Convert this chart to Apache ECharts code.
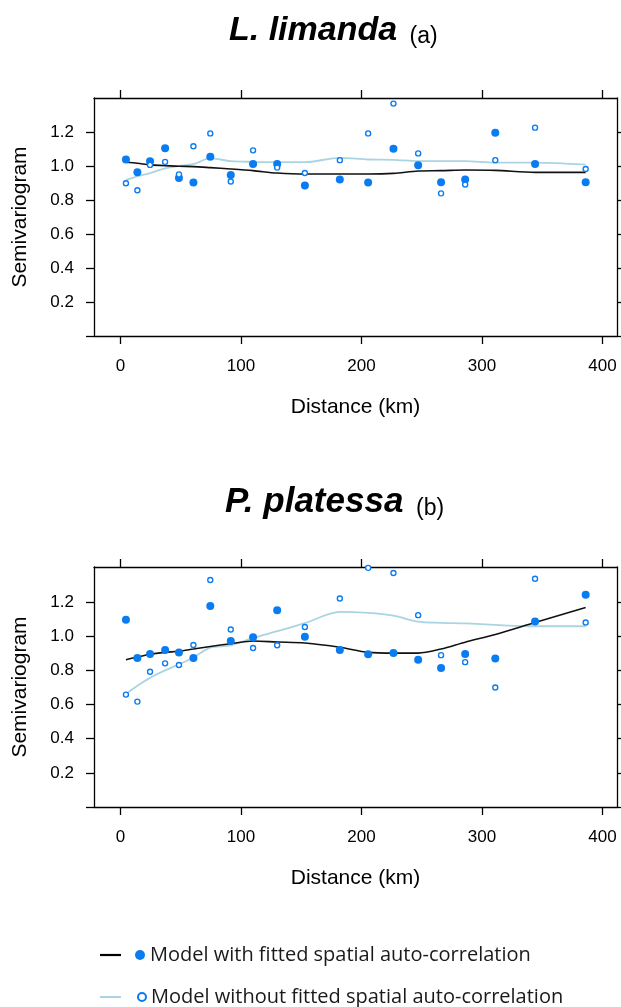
<!DOCTYPE html>
<html>
<head>
<meta charset="utf-8">
<title>Semivariogram</title>
<script src="https://cdn.jsdelivr.net/npm/echarts@6/dist/echarts.min.js"></script>
<style>
  html, body { margin: 0; padding: 0; background: #fff; }
  #chart { width: 621px; height: 1007px; }
</style>
</head>
<body>
<div id="chart"></div>
<script>
// lag distances (km), same for both panels
var lags = [4.5, 14, 24.5, 37, 48.5, 60.5, 74.5, 91.5, 110, 130, 153, 182, 205.5, 226.5, 247, 266, 286, 311, 344, 386];

// (a) L. limanda
var limandaWith = [1.042, 0.966, 1.032, 1.108, 0.932, 0.906, 1.058, 0.950, 1.016, 1.016, 0.888, 0.924, 0.906, 1.106, 1.008, 0.908, 0.924, 1.200, 1.016, 0.908];
var limandaWithout = [0.902, 0.860, 1.010, 1.028, 0.954, 1.120, 1.196, 0.912, 1.096, 0.994, 0.962, 1.038, 1.196, 1.372, 1.078, 0.842, 0.894, 1.038, 1.230, 0.986];
var limandaFitWith = [1.026, 1.020, 1.010, 1.006, 1.002, 1.000, 0.994, 0.986, 0.976, 0.962, 0.956, 0.956, 0.956, 0.960, 0.974, 0.976, 0.980, 0.978, 0.966, 0.966];
var limandaFitWithout = [0.920, 0.942, 0.962, 0.990, 1.004, 1.014, 1.050, 1.032, 1.028, 1.026, 1.026, 1.052, 1.042, 1.040, 1.032, 1.032, 1.032, 1.024, 1.024, 1.012];

// (b) P. platessa
var plaiceWith = [1.096, 0.872, 0.895, 0.919, 0.904, 0.872, 1.176, 0.972, 0.994, 1.152, 0.996, 0.919, 0.894, 0.901, 0.862, 0.813, 0.895, 0.870, 1.086, 1.242];
var plaiceWithout = [0.658, 0.617, 0.792, 0.841, 0.831, 0.948, 1.329, 1.039, 0.931, 0.947, 1.054, 1.221, 1.400, 1.370, 1.123, 0.889, 0.848, 0.700, 1.336, 1.080];
var plaiceFitWith = [0.862, 0.878, 0.894, 0.905, 0.912, 0.925, 0.940, 0.956, 0.972, 0.966, 0.960, 0.935, 0.905, 0.901, 0.901, 0.925, 0.965, 1.010, 1.080, 1.168];
var plaiceFitWithout = [0.662, 0.710, 0.756, 0.800, 0.835, 0.875, 0.933, 0.946, 0.990, 1.029, 1.076, 1.142, 1.136, 1.120, 1.085, 1.078, 1.075, 1.066, 1.058, 1.058];

var xTicks = [0, 100, 200, 300, 400];
var yTicks = [0, 0.2, 0.4, 0.6, 0.8, 1.0, 1.2];
var yLabels = [0.2, 0.4, 0.6, 0.8, 1.0, 1.2];

var nameWith = 'Model with fitted spatial auto-correlation';
var nameWithout = 'Model without fitted spatial auto-correlation';

var FONT = 'Liberation Sans';
var BLUE = '#0a7cf2';
var LIGHT = '#aad4e2';

function pairs(xs, ys) {
  return xs.map(function (x, i) { return [x, ys[i]]; });
}

var lineStyle = { color: '#000', width: 1.3 };

function xAxisFor(grid, pos) {
  var bottom = pos === 'bottom';
  return {
    type: 'value', gridIndex: grid, position: pos,
    min: -22, max: 412,
    axisLine: { show: true, onZero: false, lineStyle: lineStyle },
    axisTick: { show: true, length: 8, lineStyle: lineStyle, customValues: xTicks },
    axisLabel: { show: bottom, customValues: xTicks, margin: 22, color: '#000', fontFamily: FONT, fontSize: 17 },
    splitLine: { show: false },
    name: bottom ? 'Distance (km)' : '',
    nameLocation: 'middle', nameGap: 61,
    nameTextStyle: { color: '#000', fontFamily: FONT, fontSize: 21 }
  };
}

function yAxisFor(grid, pos) {
  var left = pos === 'left';
  return {
    type: 'value', gridIndex: grid, position: pos,
    min: 0, max: 1.405,
    axisLine: { show: true, onZero: false, lineStyle: lineStyle },
    axisTick: { show: true, length: 8, lineStyle: lineStyle, customValues: yTicks },
    axisLabel: {
      show: left, customValues: yLabels, margin: 20, color: '#000', fontFamily: FONT, fontSize: 17,
      formatter: function (v) { return v.toFixed(1); }
    },
    splitLine: { show: false },
    name: left ? 'Semivariogram' : '',
    nameLocation: 'middle', nameGap: 63, nameRotate: 90,
    nameTextStyle: { color: '#000', fontFamily: FONT, fontSize: 21 }
  };
}

function panelSeries(axis, withPts, withoutPts, fitWith, fitWithout) {
  return [
    {
      name: nameWith, type: 'scatter', xAxisIndex: axis, yAxisIndex: axis, z: 4,
      symbol: 'circle', symbolSize: 8,
      itemStyle: { color: BLUE, opacity: 1 },
      data: pairs(lags, withPts)
    },
    {
      name: nameWithout, type: 'scatter', xAxisIndex: axis, yAxisIndex: axis, z: 4,
      symbol: 'circle', symbolSize: 5,
      itemStyle: { color: '#fff', borderColor: BLUE, borderWidth: 1.4, opacity: 1 },
      data: pairs(lags, withoutPts)
    },
    {
      name: 'fit with', type: 'line', xAxisIndex: axis, yAxisIndex: axis, z: 3,
      showSymbol: false, smooth: 0.3,
      lineStyle: { color: '#111', width: 1.6 },
      data: pairs(lags, fitWith)
    },
    {
      name: 'fit without', type: 'line', xAxisIndex: axis, yAxisIndex: axis, z: 2,
      showSymbol: false, smooth: 0.3,
      lineStyle: { color: LIGHT, width: 1.8 },
      data: pairs(lags, fitWithout)
    }
  ];
}

var chart = echarts.init(document.getElementById('chart'));

function titleRich(size) {
  return {
    b: { fontFamily: FONT, fontSize: size, fontWeight: 'bold', fontStyle: 'italic', color: '#000', verticalAlign: 'bottom' },
    n: { fontFamily: FONT, fontSize: 23, fontWeight: 'normal', fontStyle: 'normal', color: '#000', verticalAlign: 'bottom', padding: [0, 0, 0, 3] }
  };
}

var legendText = { fontFamily: 'Open Sans', fontSize: 20, color: '#1a1a1a' };

chart.setOption({
  animation: false,
  backgroundColor: '#fff',
  title: [
    { text: '{b|L. limanda }{n|(a)}', left: 224, top: 9, textStyle: { rich: titleRich(34) } },
    { text: '{b|P. platessa }{n|(b)}', left: 220, top: 480, textStyle: { rich: titleRich(35) } }
  ],
  grid: [
    { left: 94, top: 98, width: 523, height: 238, outerBoundsMode: 'none' },
    { left: 94, top: 567, width: 523, height: 240, outerBoundsMode: 'none' }
  ],
  xAxis: [xAxisFor(0, 'bottom'), xAxisFor(0, 'top'), xAxisFor(1, 'bottom'), xAxisFor(1, 'top')],
  yAxis: [yAxisFor(0, 'left'), yAxisFor(0, 'right'), yAxisFor(1, 'left'), yAxisFor(1, 'right')],
  legend: [
    {
      data: [{ name: nameWith, icon: 'circle' }],
      left: 135, top: 945, padding: 0, itemWidth: 10, itemHeight: 10,
      textStyle: legendText
    },
    {
      data: [{ name: nameWithout, icon: 'circle' }],
      left: 137, top: 987, padding: 0, itemWidth: 8, itemHeight: 8,
      textStyle: legendText
    }
  ],
  graphic: [
    { type: 'line', shape: { x1: 100, y1: 955, x2: 121, y2: 955 }, style: { stroke: '#000', lineWidth: 2.2 } },
    { type: 'line', shape: { x1: 100, y1: 997, x2: 121, y2: 997 }, style: { stroke: LIGHT, lineWidth: 2 } }
  ],
  series: []
    .concat(panelSeries(0, limandaWith, limandaWithout, limandaFitWith, limandaFitWithout))
    .concat(panelSeries(2, plaiceWith, plaiceWithout, plaiceFitWith, plaiceFitWithout))
});
</script>
</body>
</html>
